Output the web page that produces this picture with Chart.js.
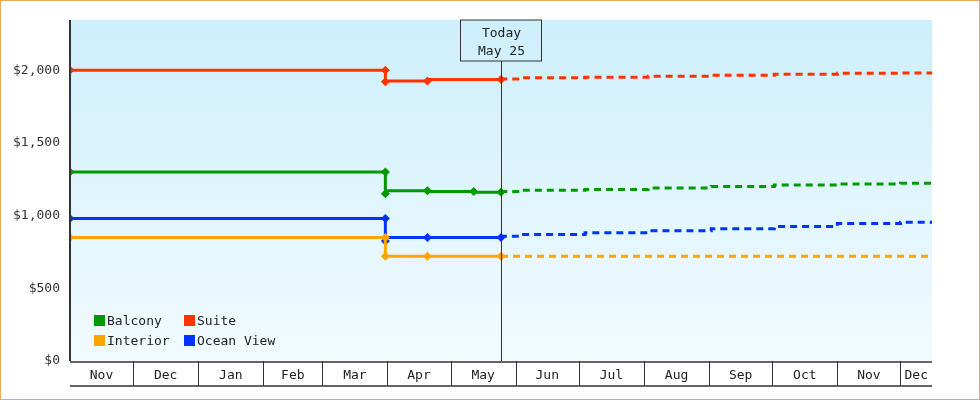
<!DOCTYPE html>
<html><head><meta charset="utf-8">
<script src="https://cdn.jsdelivr.net/npm/chart.js@4"></script>
<style>
html,body{margin:0;padding:0;background:#fff}
#wrap{width:978px;height:398px;border:1px solid #e8a860;position:relative}
canvas{display:block}
</style></head><body>
<div id="wrap"><canvas id="c" width="978" height="398"></canvas></div>
<script>
// days counted from Nov 1
const monthNames = ["Nov","Dec","Jan","Feb","Mar","Apr","May","Jun","Jul","Aug","Sep","Oct","Nov","Dec"];
const monthStarts = [0,30,61,92,120,151,181,212,242,273,304,334,365,395];
const xEnd = 410;
const todayDay = 205;
const todayLabel = ["Today", "May 25"];
const yTicks = [0, 500, 1000, 1500, 2000];

const seriesNames = ["Balcony", "Suite", "Interior", "Ocean View"];
const seriesColors = ["#009900", "#ff3300", "#ffa500", "#0033ff"];

// history (step points)
const histDays = {
  "Balcony": [0, 150, 150, 170, 192, 205],
  "Suite": [0, 150, 150, 170, 205],
  "Interior": [0, 150, 150, 170, 205],
  "Ocean View": [0, 150, 150, 170, 205]
};
const histValues = {
  "Balcony": [1300, 1300, 1150, 1170, 1165, 1160],
  "Suite": [2000, 2000, 1920, 1925, 1935],
  "Interior": [850, 850, 720, 720, 720],
  "Ocean View": [980, 980, 825, 850, 850]
};
// forecast (dotted)
const fcDays = [205, 215, 245, 275, 305, 335, 365, 395, 410];
const fcValues = {
  "Balcony": [1160, 1165, 1175, 1180, 1190, 1200, 1210, 1218, 1222],
  "Suite": [1935, 1940, 1948, 1952, 1958, 1965, 1972, 1978, 1980],
  "Interior": [720, 720, 720, 720, 720, 720, 720, 720, 720],
  "Ocean View": [850, 858, 870, 882, 895, 910, 925, 945, 955]
};

const FONT = "'DejaVu Sans Mono', monospace";
const datasets = [];
seriesNames.forEach((n, i) => {
  datasets.push({
    label: n,
    data: histDays[n].map((d, k) => ({x: d, y: histValues[n][k]})),
    borderColor: seriesColors[i], backgroundColor: seriesColors[i],
    borderWidth: 3, stepped: "after",
    pointStyle: "rectRot", pointRadius: 4.5, pointBorderWidth: 0
  });
});
seriesNames.forEach((n, i) => {
  datasets.push({
    label: "_" + n,
    data: fcDays.map((d, k) => ({x: d, y: fcValues[n][k]})),
    borderColor: seriesColors[i], borderWidth: 3, borderDash: [7, 5],
    stepped: "after", pointRadius: 0
  });
});

const decor = {
  id: "decor",
  beforeDraw(chart) {
    const {ctx, chartArea: a} = chart;
    const g = ctx.createLinearGradient(0, a.top, 0, a.bottom);
    g.addColorStop(0, "#cdeffc");
    g.addColorStop(1, "#f2fbff");
    ctx.fillStyle = g;
    ctx.fillRect(a.left, a.top, a.right - a.left, a.bottom - a.top);
  },
  afterDatasetsDraw(chart) {
    const {ctx, chartArea: a, scales: {x}} = chart;
    ctx.save();
    // today line
    const tx = Math.round(x.getPixelForValue(todayDay)) + 0.5;
    ctx.strokeStyle = "#333"; ctx.lineWidth = 1;
    ctx.beginPath(); ctx.moveTo(tx, a.top + 41); ctx.lineTo(tx, a.bottom); ctx.stroke();
    ctx.strokeRect(tx - 41, a.top, 81, 41);
    ctx.fillStyle = "#222"; ctx.font = "13px " + FONT; ctx.textAlign = "center";
    ctx.fillText(todayLabel[0], tx, a.top + 17);
    ctx.fillText(todayLabel[1], tx, a.top + 35);
    // left axis line
    ctx.strokeStyle = "#333"; ctx.lineWidth = 2;
    ctx.beginPath(); ctx.moveTo(a.left, a.top); ctx.lineTo(a.left, a.bottom); ctx.stroke();
    // month boxes
    ctx.lineWidth = 1.5;
    ctx.beginPath(); ctx.moveTo(a.left, a.bottom + 1); ctx.lineTo(a.right, a.bottom + 1);
    ctx.moveTo(a.left, a.bottom + 25); ctx.lineTo(a.right, a.bottom + 25); ctx.stroke();
    ctx.lineWidth = 1;
    ctx.font = "13px " + FONT;
    monthStarts.forEach((d, i) => {
      const x0 = x.getPixelForValue(d);
      const x1 = x.getPixelForValue(i + 1 < monthStarts.length ? monthStarts[i + 1] : xEnd);
      if (i > 0) { ctx.beginPath(); ctx.moveTo(Math.round(x0) + 0.5, a.bottom); ctx.lineTo(Math.round(x0) + 0.5, a.bottom + 25); ctx.stroke(); }
      ctx.fillText(monthNames[i], (x0 + Math.min(x1, a.right)) / 2, a.bottom + 18);
    });
    // legend
    ctx.textAlign = "left"; ctx.font = "13px " + FONT;
    const pos = [[93, 314], [183, 314], [93, 334], [183, 334]];
    seriesNames.forEach((n, i) => {
      ctx.fillStyle = seriesColors[i];
      ctx.fillRect(pos[i][0], pos[i][1], 11, 11);
      ctx.fillStyle = "#222";
      ctx.fillText(n, pos[i][0] + 13, pos[i][1] + 10);
    });
    ctx.restore();
  }
};

new Chart(document.getElementById("c"), {
  type: "line",
  data: {datasets},
  plugins: [decor],
  options: {
    responsive: false, animation: false,
    layout: {padding: {top: 19, right: 47, bottom: 0, left: 0}},
    plugins: {legend: {display: false}, tooltip: {enabled: false}},
    scales: {
      x: {type: "linear", min: 0, max: xEnd, grid: {display: false},
          ticks: {display: false}, border: {display: false},
          afterFit(s) { s.height = 38; }},
      y: {min: 0, max: 2345, grid: {display: false, drawTicks: true},
          border: {display: false},
          afterBuildTicks(s) { s.ticks = yTicks.map(v => ({value: v})); },
          afterFit(s) { s.width = 69; },
          ticks: {color: "#333", font: {family: FONT, size: 13}, padding: 2,
                  callback: v => "$" + v.toLocaleString("en-US")}}
    }
  }
});
</script></body></html>
